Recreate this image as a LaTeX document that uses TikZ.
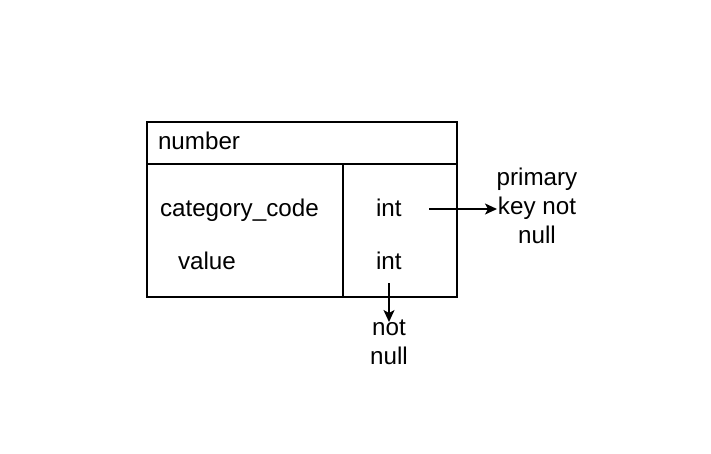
\documentclass[tikz,border=0pt]{standalone}
\usepackage{fontspec}
\setmainfont{Liberation Sans}
\usetikzlibrary{arrows.meta}
\begin{document}
\begin{tikzpicture}[x=1pt,y=-1pt,
  lbl/.style={inner sep=0pt,outer sep=0pt,font=\fontsize{24.2}{28.7}\selectfont},
  frame/.style={draw,line width=1.5pt},
  arr/.style={line width=1.5pt,-{Stealth[length=12pt,width=11pt,inset=3pt]}}]
\useasboundingbox (0,0) rectangle (711,453);
\node[frame,minimum width=310pt,minimum height=175pt,anchor=north west,inner sep=0pt] (box) at (146,121) {};
\coordinate (hl) at (146,164);
\coordinate (hr) at (456,164);
\draw[frame] (hl) -- (hr);
\coordinate (dt) at (343,164);
\coordinate (db) at (343,296);
\draw[frame] (dt) -- (db);
\node[lbl,anchor=base west] (title) at (158,149) {number};
\node[lbl,anchor=base west] (cc) at (160,216) {category\_code};
\node[lbl,anchor=base west] (val) at (178,269) {value};
\node[lbl,anchor=base west] (t1) at (376,216) {int};
\node[lbl,anchor=base west] (t2) at (376,269) {int};
\node[lbl,align=center,anchor=base] (pk) at (537,243) {primary\\key not\\null};
\node[lbl,align=center,anchor=base] (nn) at (389,364) {not\\null};
\coordinate (a1s) at (429,209);
\coordinate (a1e) at (497,209);
\draw[arr] (a1s) -- (a1e);
\coordinate (a2s) at (389,283);
\coordinate (a2e) at (389,322);
\draw[arr] (a2s) -- (a2e);
\end{tikzpicture}
\end{document}
